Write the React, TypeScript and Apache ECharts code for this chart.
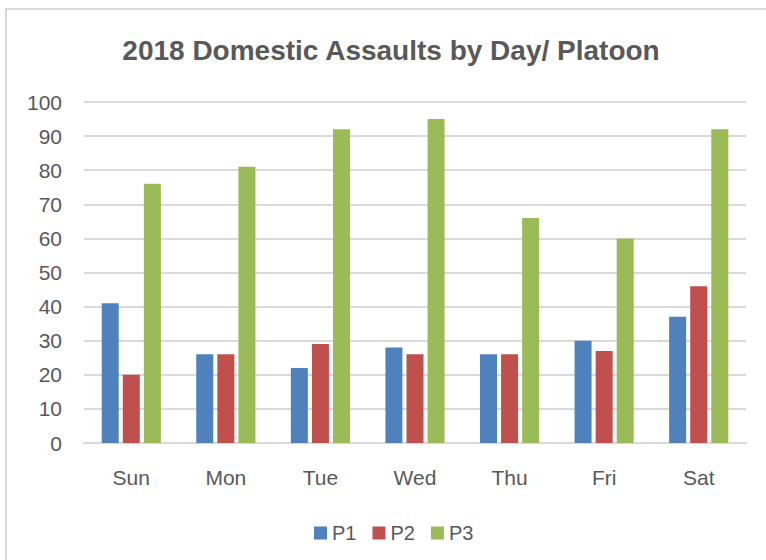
import React, { useEffect, useRef } from "react";
import * as echarts from "echarts";

const categories = ["Sun", "Mon", "Tue", "Wed", "Thu", "Fri", "Sat"];
const p1 = [41, 26, 22, 28, 26, 30, 37];
const p2 = [20, 26, 29, 26, 26, 27, 46];
const p3 = [76, 81, 92, 95, 66, 60, 92];
const seriesNames = ["P1", "P2", "P3"];
const colors = ["#4f81bd", "#c0504d", "#9bbb59"];
const titleText = "2018 Domestic Assaults by Day/ Platoon";

export default function App() {
  const ref = useRef<HTMLDivElement>(null);
  useEffect(() => {
    if (!ref.current) return;
    const chart = echarts.init(ref.current, null, { renderer: "svg" });
    const font = "'Liberation Sans', Arial, sans-serif";
    const values = [p1, p2, p3];
    chart.setOption({
      animation: false,
      backgroundColor: "#ffffff",
      textStyle: { fontFamily: font },
      graphic: [
        {
          type: "rect",
          shape: { x: 6, y: 9, width: 780, height: 600 },
          style: { fill: "none", stroke: "#d9d9d9", lineWidth: 2 },
          silent: true,
        },
        {
          type: "text",
          x: 391,
          y: 50,
          style: {
            text: titleText,
            font: "bold 28px 'Liberation Sans', Arial, sans-serif",
            fill: "#595959",
            textAlign: "center",
            textVerticalAlign: "middle",
          },
        },
      ],
      legend: {
        left: 309,
        top: 518,
        itemWidth: 13,
        itemHeight: 13,
        itemGap: 16,
        icon: "rect",
        textStyle: { color: "#595959", fontSize: 20, fontFamily: font },
        data: seriesNames,
      },
      grid: { left: 84, right: 20, top: 102, bottom: 117 },
      xAxis: {
        type: "category",
        data: categories,
        axisLine: { lineStyle: { color: "#d9d9d9", width: 2 } },
        axisTick: { show: false },
        axisLabel: { color: "#595959", fontSize: 21, margin: 24, fontFamily: font },
      },
      yAxis: {
        type: "value",
        min: 0,
        max: 100,
        interval: 10,
        axisLine: { show: false },
        axisTick: { show: false },
        axisLabel: { color: "#595959", fontSize: 21, margin: 22, fontFamily: font },
        splitLine: { lineStyle: { color: "#d9d9d9", width: 2 } },
      },
      series: seriesNames.map((name, i) => ({
        name,
        type: "bar",
        data: values[i],
        barWidth: 17,
        barGap: "24%",
        itemStyle: { color: colors[i] },
      })),
    });
    return () => chart.dispose();
  }, []);
  return (
    <div
      ref={ref}
      style={{ position: "fixed", left: 0, top: 0, width: 766, height: 560 }}
    />
  );
}
